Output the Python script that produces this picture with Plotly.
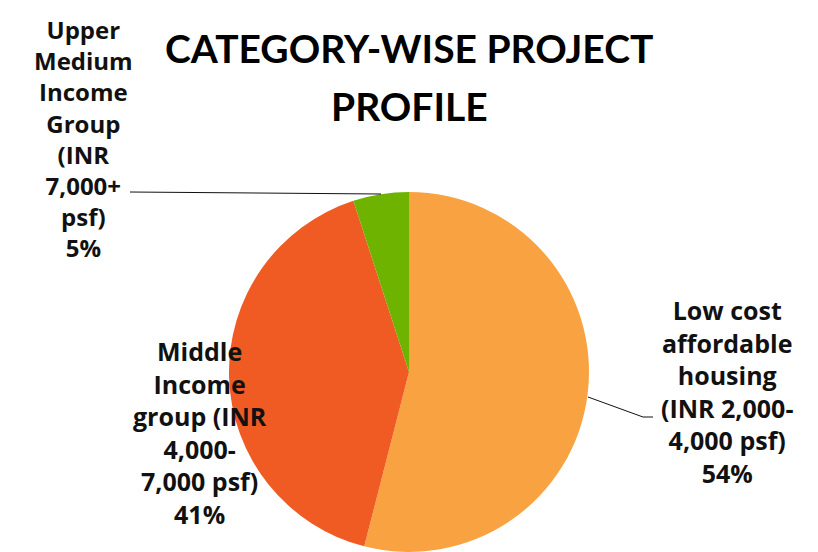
import plotly.graph_objects as go

# Category-wise project profile (shares in %)
categories = [
    "Low cost affordable housing (INR 2,000-4,000 psf)",
    "Middle Income group (INR 4,000-7,000 psf)",
    "Upper Medium Income Group (INR 7,000+ psf)",
]
shares = [54, 41, 5]
colors = ["#F8A241", "#F05A23", "#6DB300"]

label_lines = [
    "Low cost<br>affordable<br>housing<br>(INR 2,000-<br>4,000 psf)<br>54%",
    "Middle<br>Income<br>group (INR<br>4,000-<br>7,000 psf)<br>41%",
    "Upper<br>Medium<br>Income<br>Group<br>(INR<br>7,000+<br>psf)<br>5%",
]
title_lines = ["CATEGORY-WISE PROJECT", "PROFILE"]

# page body has an 8px margin, so the figure is a bit smaller than the window
OFF = 8
W, H = 818 - OFF, 552 - OFF
LABEL_FONT = "Open Sans"
TITLE_FONT = "Lato"


def px(x, y):
    # reference pixel -> paper coords
    return (x - OFF) / W, (H - (y - OFF)) / H


x0, y0 = px(229, 192)
x1, y1 = px(589, 552)
fig = go.Figure(go.Pie(
    labels=categories,
    values=shares,
    marker=dict(colors=colors, line=dict(width=0)),
    sort=False,
    direction="clockwise",
    rotation=0,
    textinfo="none",
    hoverinfo="label+percent",
    domain=dict(x=[x0, x1], y=[max(y1, 0), y0]),
    showlegend=False,
))

label_pos = [(727, 392), (200, 432), (83, 138)]
label_size = [25, 25, 24]
for txt, (x, y), sz in zip(label_lines, label_pos, label_size):
    xp, yp = px(x, y)
    fig.add_annotation(x=xp, y=yp, xref="paper", yref="paper", text="<b>" + txt + "</b>",
                       showarrow=False, align="center", xanchor="center", yanchor="middle",
                       borderpad=0,
                       font=dict(family=LABEL_FONT, size=sz, color="#111111"))

# leader lines
leaders = [
    [(588, 397), (643, 417), (653, 417)],
    [(130, 192), (381, 194)],
]
for pts in leaders:
    path = "M " + " L ".join(f"{a},{b}" for a, b in (px(*p) for p in pts))
    fig.add_shape(type="path", path=path, xref="paper", yref="paper",
                  line=dict(color="#111111", width=1))

for txt, y in zip(title_lines, [48, 106]):
    fig.add_annotation(x=px(409, y)[0], y=px(409, y)[1], xref="paper", yref="paper",
                       text="<b>" + txt + "</b>", showarrow=False,
                       xanchor="center", yanchor="middle",
                       font=dict(family=TITLE_FONT, size=39, color="#000000"))

fig.update_layout(
    width=W, height=H,
    margin=dict(l=0, r=0, t=0, b=0),
    paper_bgcolor="white",
    plot_bgcolor="white",
)

fig.write_html("out.html")
